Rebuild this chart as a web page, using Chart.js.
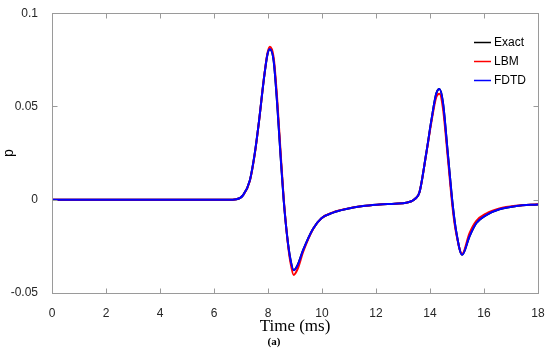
<!DOCTYPE html>
<html>
<head>
<meta charset="utf-8">
<script src="https://cdn.jsdelivr.net/npm/chart.js@4/dist/chart.umd.min.js"></script>
<style>
    html, body { margin: 0; padding: 0; background: #fff; }
    #wrap { position: relative; width: 550px; height: 354px; }
    #caption {
        position: absolute; left: 254px; top: 335px; width: 40px; text-align: center;
        font: bold 11px "Liberation Serif", "Times New Roman", serif; color: #000;
    }
</style>
</head>
<body>
<div id="wrap">
    <canvas id="chart" width="550" height="354"></canvas>
    <div id="caption">(a)</div>
</div>
<script>
// time axis (ms) shared by all three series
const timeMs = [0, 6.5, 6.83, 7.08, 7.33, 7.51, 7.67, 7.84, 7.98, 8.07, 8.21, 8.34, 8.46, 8.58, 8.71, 8.83, 8.95, 9.1, 9.3, 9.67, 9.98, 10.41, 10.9, 11.52, 12.13, 12.7, 13.12, 13.31, 13.45, 13.61, 13.86, 14.05, 14.23, 14.35, 14.48, 14.66, 14.85, 14.97, 15.19, 15.46, 15.71, 16.08, 16.57, 17.19, 18];

const exactP = [0, 0, 0.0003, 0.0025, 0.0105, 0.0248, 0.0425, 0.0638, 0.0779, 0.0807, 0.0745, 0.0515, 0.0249, 0.0001, -0.0196, -0.0319, -0.0377, -0.0349, -0.0270, -0.0155, -0.0099, -0.0069, -0.0050, -0.0034, -0.0026, -0.0021, -0.0016, -0.0008, 0.0005, 0.0040, 0.0248, 0.0425, 0.0568, 0.0593, 0.0521, 0.0249, -0.0040, -0.0170, -0.0295, -0.0197, -0.0126, -0.0082, -0.0051, -0.0034, -0.0025];

const lbmP = [0, 0, 0.0003, 0.0024, 0.0102, 0.0244, 0.0423, 0.0640, 0.0785, 0.0820, 0.0762, 0.0540, 0.0270, 0.0010, -0.0200, -0.0335, -0.0403, -0.0370, -0.0280, -0.0157, -0.0099, -0.0068, -0.0049, -0.0034, -0.0026, -0.0021, -0.0016, -0.0008, 0.0005, 0.0040, 0.0245, 0.0415, 0.0550, 0.0568, 0.0490, 0.0225, -0.0060, -0.0180, -0.0290, -0.0180, -0.0114, -0.0074, -0.0047, -0.0032, -0.0024];

const fdtdP = [0, 0, 0.0003, 0.0025, 0.0105, 0.0248, 0.0425, 0.0639, 0.0780, 0.0808, 0.0745, 0.0514, 0.0248, 0.0000, -0.0197, -0.0320, -0.0378, -0.0350, -0.0270, -0.0155, -0.0099, -0.0069, -0.0050, -0.0034, -0.0026, -0.0021, -0.0016, -0.0008, 0.0005, 0.0040, 0.0248, 0.0425, 0.0568, 0.0594, 0.0520, 0.0248, -0.0040, -0.0170, -0.0295, -0.0197, -0.0126, -0.0082, -0.0051, -0.0034, -0.0025];

const xTicks = [0, 2, 4, 6, 8, 10, 12, 14, 16, 18];
const yTicks = [-0.05, 0, 0.05, 0.1];

const seriesNames = ['Exact', 'LBM', 'FDTD'];
const seriesColors = ['#000000', '#ff0000', '#0000ff'];

const axisGray = '#9a9a9a';
const tickFont = { family: '"Liberation Sans", Arial, sans-serif', size: 12 };

function points(values) {
    return timeMs.map((t, i) => ({ x: t, y: values[i] }));
}

// MATLAB style box with inward ticks on all four sides
const boxPlugin = {
    id: 'box',
    afterDraw(chart) {
        const { ctx, chartArea: a, scales } = chart;
        const L = Math.round(a.left) + 0.5, R = Math.round(a.right) + 0.5;
        const T = Math.round(a.top) + 0.5, B = Math.round(a.bottom) + 0.5;
        const len = 5;
        ctx.save();
        ctx.strokeStyle = axisGray;
        ctx.lineWidth = 1;
        ctx.strokeRect(L, T, R - L, B - T);
        ctx.beginPath();
        xTicks.forEach(v => {
            const x = Math.round(scales.x.getPixelForValue(v)) + 0.5;
            ctx.moveTo(x, B); ctx.lineTo(x, B - len);
            ctx.moveTo(x, T); ctx.lineTo(x, T + len);
        });
        yTicks.forEach(v => {
            const y = Math.round(scales.y.getPixelForValue(v)) + 0.5;
            ctx.moveTo(L, y); ctx.lineTo(L + len, y);
            ctx.moveTo(R, y); ctx.lineTo(R - len, y);
        });
        ctx.stroke();
        ctx.restore();
    }
};

// legend inside the plot, top right, no frame
const insideLegend = {
    id: 'insideLegend',
    afterDraw(chart) {
        const { ctx } = chart;
        ctx.save();
        ctx.font = '12px "Liberation Sans", Arial, sans-serif';
        ctx.textBaseline = 'middle';
        ctx.fillStyle = '#000';
        seriesNames.forEach((name, i) => {
            const y = 42.5 + i * 19;
            ctx.strokeStyle = seriesColors[i];
            ctx.lineWidth = 1.5;
            ctx.beginPath();
            ctx.moveTo(474, y); ctx.lineTo(491, y);
            ctx.stroke();
            ctx.fillText(name, 494, y);
        });
        ctx.restore();
    }
};

const datasets = [exactP, lbmP, fdtdP].map((vals, i) => ({
    label: seriesNames[i],
    data: points(vals),
    borderColor: seriesColors[i],
    borderWidth: 2,
    pointRadius: 0,
    cubicInterpolationMode: 'monotone',
    fill: false,
    order: 2 - i  // FDTD drawn on top
}));

new Chart(document.getElementById('chart'), {
    type: 'line',
    data: { datasets },
    options: {
        responsive: false,
        animation: false,
        layout: { padding: { top: 12, right: 12, left: 0, bottom: 0 } },
        plugins: {
            legend: { display: false },
            tooltip: { enabled: false }
        },
        scales: {
            x: {
                type: 'linear',
                min: 0,
                max: 18,
                afterBuildTicks: s => { s.ticks = xTicks.map(v => ({ value: v })); },
                afterFit: s => { s.height = 61; },
                grid: { display: false },
                border: { display: false },
                ticks: { font: tickFont, color: '#262626', padding: 5, maxRotation: 0 },
                title: {
                    display: true,
                    text: 'Time (ms)',
                    font: { family: '"Liberation Serif", "Times New Roman", serif', size: 17 },
                    color: '#000',
                    padding: { top: 0, bottom: 17 }
                }
            },
            y: {
                min: -0.05,
                max: 0.1,
                afterBuildTicks: s => { s.ticks = yTicks.map(v => ({ value: v })); },
                afterFit: s => { s.width = 52; },
                grid: { display: false },
                border: { display: false },
                ticks: {
                    font: tickFont,
                    color: '#262626',
                    padding: 6,
                    callback: v => String(+v.toFixed(2))
                },
                title: {
                    display: true,
                    text: 'p',
                    font: { family: '"Liberation Sans", Arial, sans-serif', size: 14 },
                    color: '#000',
                    padding: { top: 1, bottom: 0 }
                }
            }
        }
    },
    plugins: [boxPlugin, insideLegend]
});
</script>
</body>
</html>
